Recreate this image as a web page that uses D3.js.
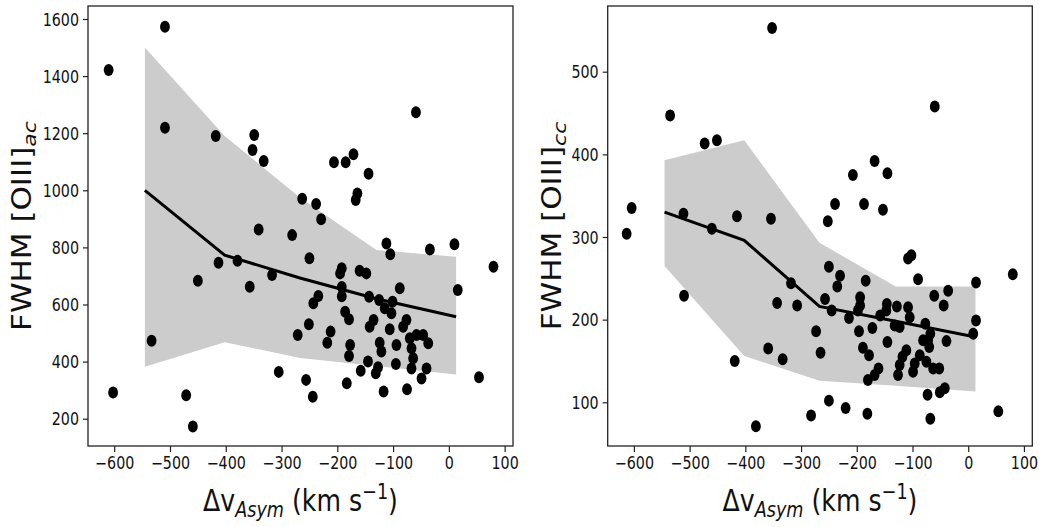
<!DOCTYPE html>
<html><head><meta charset="utf-8">
<script src="https://cdn.jsdelivr.net/npm/d3@7"></script>
<style>
html,body{margin:0;padding:0;background:#fff;}
svg{display:block;font-family:"DejaVu Sans",sans-serif;}
</style></head>
<body>
<svg id="chart" width="1046" height="527"></svg>
<script>
// ---------- data ----------
const acX = [-610,-509,-509,-418,-349,-352,-332,-341,-413,-379,-450,-357,-317,-533,-602,-471,-459,-305,-59,
  -206,-185,-171,-144,-164,-167,-263,-238,-229,-281,-112,-34,10,-250,-105,-192,-195,-160,-148,
  -192,-192,-88,16,-234,-243,-143,-125,-101,-115,-103,-186,-179,-251,-271,-212,-218,-135,-142,-76,-82,-106,
  -177,-179,-124,-121,-94,-145,-127,-131,-158,-95,
  -70,-58,-46,-37,-67,-64,-67,-49,-40,
  -256,-244,-183,-117,-75,80,54];
const acY = [1421,1573,1219,1190,1194,1141,1103,863,746,753,683,662,703,473,292,282,173,364,1273,
  1098,1098,1126,1058,989,966,970,952,899,843,814,793,811,762,776,727,709,718,709,
  661,629,657,651,630,604,627,616,610,587,569,575,548,531,493,505,466,546,522,546,522,513,
  458,420,466,435,458,400,380,359,368,392,
  482,493,493,464,447,412,376,341,376,
  336,277,324,295,303,732,345];

const ccX = [-352,-535,-473,-451,-604,-613,-511,-460,-415,-354,-60,-168,-207,-145,-239,-187,-153,-252,
  -510,-343,-359,-333,-419,-381,-318,-108,-102,-90,14,-250,-230,-235,-184,-61,-36,-44,-257,-245,
  -307,-273,-265,-214,-194,-194,-198,-196,-172,-189,-178,
  -146,-147,-158,-128,-108,-105,-132,-123,-145,
  -111,-118,-123,-126,-87,-96,-99,-77,-68,-72,-81,-70,-39,-75,-63,-52,-73,-51,-42,-68,
  14,9,80,54,-250,-220,-282,-181,-161,-168,-180];
const ccY = [553,447,413,417,335,304,328,310,325,322,458,392,375,377,340,340,333,319,
  229,220,165,152,150,71,244,274,278,249,245,264,253,240,247,229,235,217,225,211,
  217,186,160,202,227,217,211,186,190,166,157,
  219,211,205,216,215,203,193,191,173,
  163,155,145,133,157,147,137,195,183,175,175,167,174,149,141,141,109,112,117,80,
  199,183,255,89,102,93,84,86,141,133,127];

// binned median and spread
const binX = [-545,-402,-267,-130,13];
const acMed = [1000,773,693,620,557];
const acHi  = [1500,1190,975,791,767];
const acLo  = [382,468,413,385,355];
const ccMed = [330,296,216,198,179];
const ccHi  = [393,417,293,240,240];
const ccLo  = [265,156,126,120,113];

const xTicks = [-600,-500,-400,-300,-200,-100,0,100];
const acYTicks = [200,400,600,800,1000,1200,1400,1600];
const ccYTicks = [100,200,300,400,500];

// ---------- drawing ----------
const svg = d3.select("#chart");
const SX = 0.84; // horizontal text compression

function panel(o){
  const g = svg.append("g");
  const x = d3.scaleLinear().domain([-647,115]).range([o.left,o.right]);
  const y = d3.scaleLinear().domain(o.ydom).range([446,6]);

  const band = binX.map((v,i)=>({x:v,lo:o.lo[i],hi:o.hi[i],m:o.med[i]}));
  g.append("path").datum(band)
    .attr("d", d3.area().x(d=>x(d.x)).y0(d=>y(d.lo)).y1(d=>y(d.hi)))
    .attr("fill","#cccccc");
  g.append("path").datum(band)
    .attr("d", d3.line().x(d=>x(d.x)).y(d=>y(d.m)))
    .attr("fill","none").attr("stroke","#000").attr("stroke-width",3);

  g.selectAll("ellipse.pt").data(o.xs.map((v,i)=>[v,o.ys[i]])).join("ellipse")
    .attr("cx",d=>x(d[0])).attr("cy",d=>y(d[1]))
    .attr("rx",4.9).attr("ry",6).attr("fill","#000");

  // frame
  g.append("rect").attr("x",o.left).attr("y",6).attr("width",o.right-o.left).attr("height",440)
    .attr("fill","none").attr("stroke","#222").attr("stroke-width",1.3);

  const ax = g.append("g").attr("transform","translate(0,446)")
    .call(d3.axisBottom(x).tickValues(xTicks).tickSize(6).tickPadding(5)
      .tickFormat(d=>d<0?"\u2212"+Math.abs(d):String(d)));
  const ay = g.append("g").attr("transform",`translate(${o.left},0)`)
    .call(d3.axisLeft(y).tickValues(o.yticks).tickSize(5).tickPadding(4).tickFormat(d3.format("d")));
  [ax,ay].forEach(a=>{
    a.select(".domain").remove();
    a.selectAll(".tick line").attr("stroke","#222").attr("stroke-width",1.2);
    a.selectAll(".tick text").attr("fill","#111").style("font-size","17px")
      .style("font-family","DejaVu Sans");
  });
  ax.selectAll(".tick text").attr("transform",`scale(${SX},1)`);
  ay.selectAll(".tick text").attr("transform",`scale(${SX},1)`).attr("x",-9/SX).attr("dy","0.36em");

  // x label
  const cx = (o.left+o.right)/2;
  const xl = g.append("text").attr("transform",`translate(${cx},511) scale(${SX},1)`)
    .attr("text-anchor","middle").style("font-size","30px").attr("fill","#111");
  xl.append("tspan").text("\u0394v");
  xl.append("tspan").text("Asym").style("font-size","21px").style("font-style","italic").attr("dy","6");
  xl.append("tspan").text(" (km s").attr("dy","-6");
  xl.append("tspan").text("\u22121").style("font-size","21px").attr("dy","-12");
  xl.append("tspan").text(")").attr("dy","12");

  // y label
  const yl = g.append("text").attr("transform",`translate(${o.ylx},226) scale(${SX},1) rotate(-90)`)
    .attr("text-anchor","middle").style("font-size","31px").attr("fill","#111");
  yl.append("tspan").text("FWHM [OIII]");
  yl.append("tspan").text(o.sub).style("font-size","22px").style("font-style","italic").attr("dy","6");
}

panel({left:88,right:513,ydom:[104.4,1645.5],xs:acX,ys:acY,med:acMed,hi:acHi,lo:acLo,
  yticks:acYTicks,ylx:31,sub:"ac"});
panel({left:607.7,right:1032.3,ydom:[47.1,579.5],xs:ccX,ys:ccY,med:ccMed,hi:ccHi,lo:ccLo,
  yticks:ccYTicks,ylx:561,sub:"cc"});
</script>
</body></html>
